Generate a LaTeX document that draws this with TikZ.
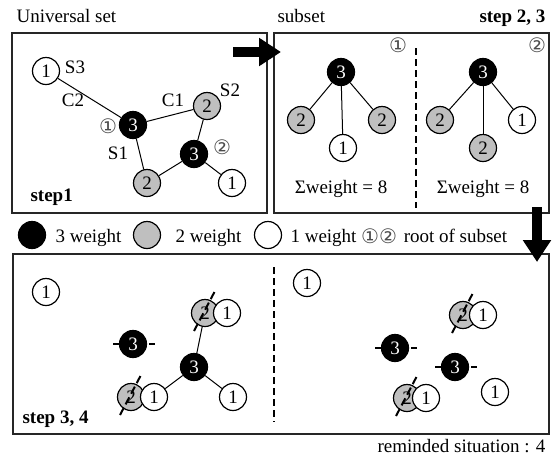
\documentclass[tikz,border=0pt]{standalone}
\usepackage{fontspec}
\setmainfont{Liberation Serif}
\newfontfamily\circfont{DejaVu Sans}
\usetikzlibrary{arrows.meta}
\tikzset{
  every node/.style={font=\fontsize{19}{21}\selectfont},
  wthree/.style={circle, draw=black, fill=black, text=white, minimum size=27pt, inner sep=0pt, line width=1.2pt},
  wtwo/.style={circle, draw=black, fill=black!25, minimum size=27pt, inner sep=0pt, line width=1.2pt},
  wone/.style={circle, draw=black, fill=white, minimum size=27pt, inner sep=0pt, line width=1.2pt},
  panel/.style={draw=black!85, line width=1.3pt},
  link/.style={line width=1pt},
  cutmark/.style={line width=2pt, dash pattern=on 8pt off 4pt},
  divider/.style={line width=2.5pt, dash pattern=on 7pt off 4pt},
  bigarrow/.style={line width=10pt, -{Triangle[length=22pt, width=27pt]}},
  rootmark/.style={font=\circfont\fontsize{20}{20}\selectfont, text=black!70, inner sep=0pt}
}

\begin{document}
\begin{tikzpicture}[x=1pt, y=-1pt]
        \useasboundingbox (0,0) rectangle (554,456);
        % Panels and their titles
        \draw[panel] (12,33) rectangle (267,213);
        \draw[panel] (274,33) rectangle (549,213);
        \draw[panel] (13,254) rectangle (549,434);
        \node[anchor=base west] (tuniv) at (13,22) {Universal set};
        \node[anchor=base west] (tsub) at (274,22) {subset};
        \node[anchor=base east] (tstep2) at (549,22) {\textbf{step 2, 3}};
        \node[anchor=base west] (tstep1) at (27,201) {\textbf{step1}};
        \node[anchor=base west] (tstep3) at (19,423) {\textbf{step 3, 4}};
        \node[anchor=base east] (tremind) at (549,452) {reminded situation : 4};

        % Universal set graph
        \node[wone] (ua1) at (46,71) {1};
        \node[wthree] (ub1) at (133,125) {3};
        \node[wtwo] (ug1) at (207,106) {2};
        \node[wthree] (ub2) at (194,154) {3};
        \node[wtwo] (ug2) at (147,183) {2};
        \node[wone] (ua2) at (232,183) {1};
        \draw[link] (ua1) -- (ub1);
        \draw[link] (ub1) -- (ug1);
        \draw[link] (ug1) -- (ub2);
        \draw[link] (ub1) -- (ug2);
        \draw[link] (ub2) -- (ug2);
        \draw[link] (ub2) -- (ua2);
        \node (lS3) at (75,67) {S3};
        \node (lC2) at (73,100) {C2};
        \node (lC1) at (173,100) {C1};
        \node (lS2) at (230,90) {S2};
        \node (lS1) at (118,153) {S1};
        \node[rootmark] (lr1) at (108,126) {①};
        \node[rootmark] (lr2) at (222,147) {②};

        % Subsets found from the two roots
        \node[rootmark] (sr1) at (398,45) {①};
        \node[rootmark] (sr2) at (537,45) {②};
        \coordinate (dvtop) at (416,48);
        \coordinate (dvbot) at (416,208);
        \draw[divider] (dvtop) -- (dvbot);
        \node[wthree] (pk) at (341,72) {3};
        \node[wtwo] (pl) at (301,120) {2};
        \node[wone] (pm) at (343,148) {1};
        \node[wtwo] (pr) at (382,120) {2};
        \draw[link] (pk) -- (pl);
        \draw[link] (pk) -- (pm);
        \draw[link] (pk) -- (pr);
        \node[anchor=base] (psum) at (341,193) {Σweight = 8};
        \node[wthree] (qk) at (483,72) {3};
        \node[wtwo] (ql) at (440,120) {2};
        \node[wtwo] (qm) at (483,148) {2};
        \node[wone] (qr) at (522,120) {1};
        \draw[link] (qk) -- (ql);
        \draw[link] (qk) -- (qm);
        \draw[link] (qk) -- (qr);
        \node[anchor=base] (qsum) at (483,193) {Σweight = 8};

        % Step arrows
        \coordinate (raA) at (233,52);
        \coordinate (raB) at (281,52);
        \draw[bigarrow] (raA) -- (raB);
        \coordinate (daA) at (537,207);
        \coordinate (daB) at (537,262);
        \draw[bigarrow] (daA) -- (daB);

        % Legend
        \node[wthree] (kb) at (32,235) {};
        \node[anchor=base west] (kbt) at (52,242) {3 weight};
        \node[wtwo] (kg) at (147,235) {};
        \node[anchor=base west] (kgt) at (172,242) {2 weight};
        \node[wone] (kw) at (268,235) {};
        \node[anchor=base west] (kwt) at (287,242) {1 weight};
        \node[rootmark, anchor=west] (kr) at (361,236) {①②};
        \node[anchor=base west] (krt) at (kr.east |- kwt.base) {\hspace{3pt}root of subset};

        % Remaining situation, first subset removed
        \node[wone] (ma1) at (46,292) {1};
        \node[wthree] (mk1) at (133,344) {3};
        \node[wtwo] (mg1) at (205,313) {2};
        \node[wone] (mw1) at (227,313) {1};
        \node[wthree] (mc) at (194,367) {3};
        \node[wtwo] (mg2) at (131,397) {2};
        \node[wone] (mw2) at (154,397) {1};
        \node[wone] (mw3) at (233,397) {1};
        \draw[link] (mc) -- (mg1);
        \draw[link] (mc) -- (mw2);
        \draw[link] (mc) -- (mw3);
        \draw[cutmark] ([shift={(-20,0)}]mk1.center) -- ([shift={(22,0)}]mk1.center);
        \draw[cutmark] ([shift={(-11,18)}]mg1.center) -- ([shift={(11,-24)}]mg1.center);
        \draw[cutmark] ([shift={(-11,18)}]mg2.center) -- ([shift={(11,-24)}]mg2.center);
        \coordinate (dwtop) at (274,267);
        \coordinate (dwbot) at (274,422);
        \draw[divider] (dwtop) -- (dwbot);

        % Remaining situation, second subset removed
        \node[wone] (na1) at (307,283) {1};
        \node[wtwo] (ng1) at (463,315) {2};
        \node[wone] (nw1) at (483,315) {1};
        \node[wthree] (nk1) at (395,348) {3};
        \node[wthree] (nk2) at (455,367) {3};
        \node[wone] (na2) at (495,392) {1};
        \node[wtwo] (ng2) at (407,398) {2};
        \node[wone] (nw2) at (426,398) {1};
        \draw[cutmark] ([shift={(-20,0)}]nk1.center) -- ([shift={(22,0)}]nk1.center);
        \draw[cutmark] ([shift={(-20,0)}]nk2.center) -- ([shift={(22,0)}]nk2.center);
        \draw[cutmark] ([shift={(-11,18)}]ng1.center) -- ([shift={(11,-24)}]ng1.center);
        \draw[cutmark] ([shift={(-11,18)}]ng2.center) -- ([shift={(11,-24)}]ng2.center);
    \end{tikzpicture}
\end{document}
